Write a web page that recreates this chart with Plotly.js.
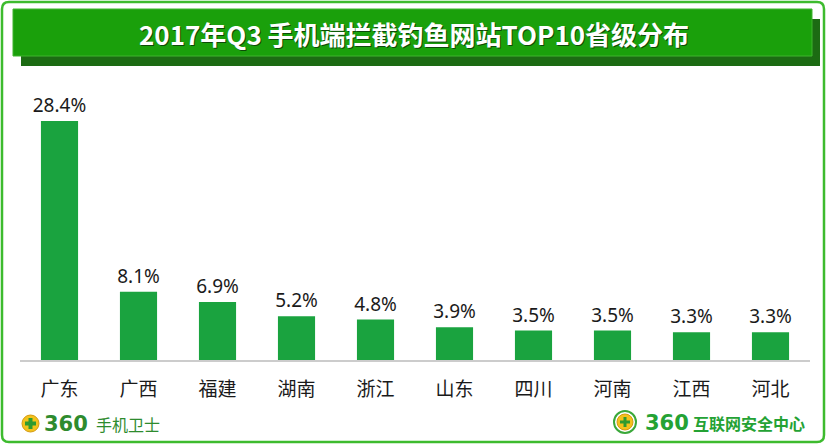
<!DOCTYPE html>
<html>
<head>
<meta charset="utf-8">
<script src="https://cdn.plot.ly/plotly-3.0.1.min.js"></script>
<style>
html,body{margin:0;padding:0;background:#fff;}
#chart{width:827px;height:445px;}
</style>
</head>
<body>
<div id="chart"></div>
<script>
// Data
const provinces = ["广东","广西","福建","湖南","浙江","山东","四川","河南","江西","河北"];
const shares = [28.4, 8.1, 6.9, 5.2, 4.8, 3.9, 3.5, 3.5, 3.3, 3.3];
const valueLabels = ["28.4%","8.1%","6.9%","5.2%","4.8%","3.9%","3.5%","3.5%","3.3%","3.3%"];
const titleText = "2017年Q3 手机端拦截钓鱼网站TOP10省级分布";
const leftLogoNum = "360", leftLogoText = "手机卫士";
const rightLogoNum = "360", rightLogoText = "互联网安全中心";

const W = 827, H = 445;
const L = 20, R = 810, T = 90, B = 360;
const pw = R - L, ph = B - T;
const fx = X => (X - L) / pw;
const fy = Y => (B - Y) / ph;
const px = X => X - L;
const py = Y => B - Y;

function pixShape(o) {
  return Object.assign({xref:'paper', yref:'paper', xsizemode:'pixel', ysizemode:'pixel', xanchor:0, yanchor:0, layer:'below'}, o);
}
function rectPath(x0,y0,x1,y1,r){
  const a=px(x0), b=px(x1), c=py(y0), d=py(y1);
  return `M${a+r},${c} L${b-r},${c} Q${b},${c} ${b},${c-r} L${b},${d+r} Q${b},${d} ${b-r},${d} L${a+r},${d} Q${a},${d} ${a},${d+r} L${a},${c-r} Q${a},${c} ${a+r},${c} Z`;
}

const trace = {
  type:'bar',
  x: provinces,
  y: shares,
  text: valueLabels,
  textposition:'outside',
  constraintext:'none',
  cliponaxis:false,
  textfont:{family:'"Noto Sans", "Noto Sans CJK SC", sans-serif', size:19, color:'#1a1a1a'},
  marker:{color:'#1aa33f', line:{width:0}},
  hoverinfo:'none'
};

const shapes = [
  pixShape({type:'path', path: rectPath(2,2,824,442,7), line:{color:'#3dbb2e', width:2.5}, fillcolor:'rgba(0,0,0,0)'}),
  pixShape({type:'rect', x0:px(21), x1:px(820), y0:py(19), y1:py(66), line:{width:0}, fillcolor:'#1c6b13'}),
  pixShape({type:'rect', x0:px(13), x1:px(812), y0:py(9), y1:py(56), line:{color:'#3fb52f', width:1}, fillcolor:'#1aa00b'}),
  // left logo icon
  pixShape({type:'circle', x0:px(22), x1:px(39), y0:py(415), y1:py(432), line:{color:'#d49a10', width:1}, fillcolor:'#f3c21b', layer:'above'}),
  pixShape({type:'rect', x0:px(28.5), x1:px(32.5), y0:py(418), y1:py(429), line:{width:0}, fillcolor:'#2f9a2f', layer:'above'}),
  pixShape({type:'rect', x0:px(25), x1:px(36), y0:py(421.5), y1:py(425.5), line:{width:0}, fillcolor:'#2f9a2f', layer:'above'}),
  // right logo icon
  pixShape({type:'circle', x0:px(614), x1:px(636), y0:py(411), y1:py(433), line:{color:'#3aa83a', width:2}, fillcolor:'rgba(0,0,0,0)', layer:'above'}),
  pixShape({type:'circle', x0:px(617), x1:px(633), y0:py(414), y1:py(430), line:{color:'#d49a10', width:1}, fillcolor:'#f3c21b', layer:'above'}),
  pixShape({type:'rect', x0:px(623.5), x1:px(626.5), y0:py(417), y1:py(427), line:{width:0}, fillcolor:'#2f9a2f', layer:'above'}),
  pixShape({type:'rect', x0:px(620), x1:px(630), y0:py(420.5), y1:py(423.5), line:{width:0}, fillcolor:'#2f9a2f', layer:'above'})
];

const cjk = '"Noto Sans CJK SC", "Noto Sans", sans-serif';
const annotations = [
  {xref:'paper', yref:'paper', x:fx(414), y:fy(33), xanchor:'center', yanchor:'middle', showarrow:false,
   text:'<b>'+titleText+'</b>', font:{family:cjk, size:26, color:'#0d4a08'}, xshift:1, yshift:-1},
  {xref:'paper', yref:'paper', x:fx(414), y:fy(33), xanchor:'center', yanchor:'middle', showarrow:false,
   text:'<b>'+titleText+'</b>', font:{family:cjk, size:26, color:'#ffffff'}},
  {xref:'paper', yref:'paper', x:fx(42), y:fy(424), xanchor:'left', yanchor:'middle', showarrow:false,
   text:'<b>'+leftLogoNum+'</b>', font:{family:'"DejaVu Sans", sans-serif', size:21, color:'#2e8b2e'}},
  {xref:'paper', yref:'paper', x:fx(94), y:fy(424), xanchor:'left', yanchor:'middle', showarrow:false,
   text:leftLogoText, font:{family:cjk, size:16, color:'#2e8b2e'}},
  {xref:'paper', yref:'paper', x:fx(643), y:fy(423), xanchor:'left', yanchor:'middle', showarrow:false,
   text:'<b>'+rightLogoNum+'</b>', font:{family:'"DejaVu Sans", sans-serif', size:21, color:'#24a234'}},
  {xref:'paper', yref:'paper', x:fx(691), y:fy(423), xanchor:'left', yanchor:'middle', showarrow:false,
   text:'<b>'+rightLogoText+'</b>', font:{family:cjk, size:16, color:'#24a234'}}
];

const layout = {
  width:W, height:H,
  margin:{l:L, r:W-R, t:T, b:H-B, pad:0},
  paper_bgcolor:'#ffffff', plot_bgcolor:'#ffffff',
  showlegend:false,
  bargap:0.53,
  xaxis:{type:'category', range:[-0.5, 9.5], showgrid:false, zeroline:false,
         showline:true, linecolor:'#cccccc', linewidth:1.5, ticks:'', ticklabelstandoff:12,
         tickfont:{family:cjk, size:19, color:'#1a1a1a'}, fixedrange:true},
  yaxis:{range:[0, ph/(239/28.4)], showgrid:false, zeroline:false, showline:false,
         showticklabels:false, ticks:'', fixedrange:true},
  shapes:shapes,
  annotations:annotations
};

Plotly.newPlot('chart', [trace], layout, {displayModeBar:false, staticPlot:true});
</script>
</body>
</html>
